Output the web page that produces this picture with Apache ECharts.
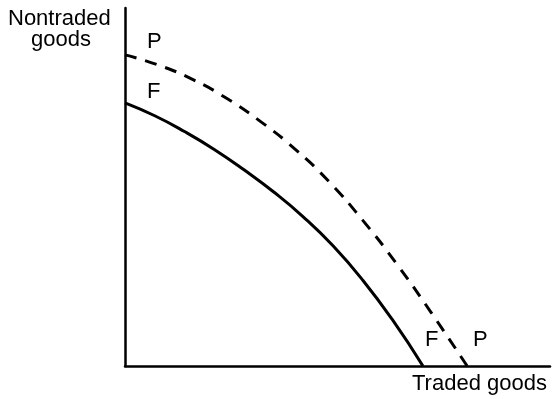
<!DOCTYPE html>
<html>
<head>
<meta charset="utf-8">
<script src="https://cdn.jsdelivr.net/npm/echarts@6/dist/echarts.min.js"></script>
<style>
html,body{margin:0;padding:0;background:#fff;}
#chart{width:553px;height:399px;}
</style>
</head>
<body>
<div id="chart"></div>
<script>
// production frontier P (dashed, outer) and F (solid, inner)
var pX = [0, 8, 16, 24, 32, 40, 48, 56, 64, 72, 80.5];
var pY = [86.9, 84.0, 80.0, 74.7, 68.2, 60.6, 51.5, 40.6, 28.4, 15.0, 0];
var fX = [0, 7, 14, 21, 28, 35, 42, 49, 56, 63, 70.1];
var fY = [73.5, 69.9, 65.5, 60.5, 54.8, 48.6, 41.6, 33.5, 23.9, 12.8, 0];

function pairs(xs, ys){
	var out = [];
	for(var i = 0; i < xs.length; i++){
		out.push([xs[i], ys[i]]);
	}
	return out;
}

function txt(x, y, s){
	return {type:'text', left:x, top:y,
		style:{text:s, fill:'#000', fontSize:22, fontFamily:'Liberation Sans'}};
}

var myChart = echarts.init(document.getElementById('chart'));
var option = {
	animation:false,
	grid:{left:125, right:3, top:8, bottom:33},
	xAxis:{
		type:'value', min:0, max:100,
		axisLine:{lineStyle:{color:'#000', width:2.5}},
		axisTick:{show:false}, axisLabel:{show:false}, splitLine:{show:false}
	},
	yAxis:{
		type:'value', min:0, max:100,
		axisLine:{show:true, lineStyle:{color:'#000', width:2.5}},
		axisTick:{show:false}, axisLabel:{show:false}, splitLine:{show:false}
	},
	graphic:[
		txt(8, 8, 'Nontraded'),
		txt(31, 29, 'goods'),
		txt(412, 373, 'Traded goods'),
		txt(147, 31, 'P'),
		txt(147, 81, 'F'),
		txt(425, 329, 'F'),
		txt(473, 329, 'P')
	],
	series:[
		{
			name:'P', type:'line', smooth:0.5, symbol:'none',
			lineStyle:{color:'#000', width:3, type:[12, 9]},
			data:pairs(pX, pY)
		},
		{
			name:'F', type:'line', smooth:0.5, symbol:'none',
			lineStyle:{color:'#000', width:3},
			data:pairs(fX, fY)
		}
	]
};
myChart.setOption(option);
</script>
</body>
</html>
